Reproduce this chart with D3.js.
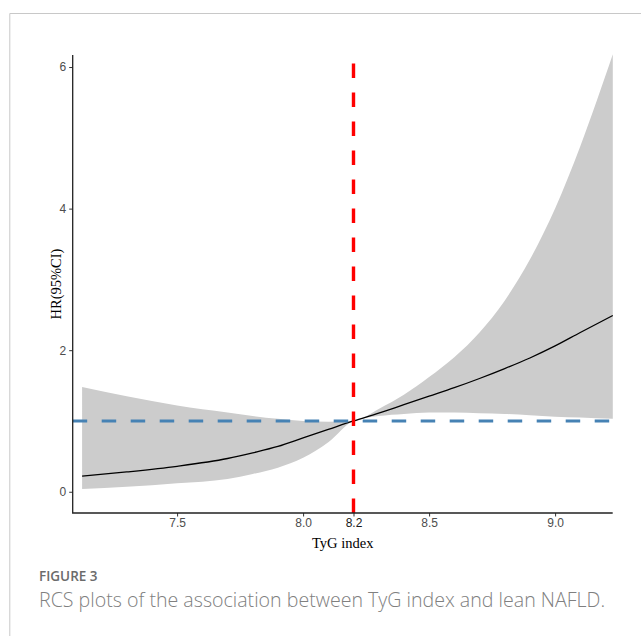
<!DOCTYPE html>
<html>
<head>
<meta charset="utf-8">
<script src="https://cdn.jsdelivr.net/npm/d3@7"></script>
<style>
  body { margin: 0; background: #fff; }
  svg { display: block; }
</style>
</head>
<body>
<div id="chart"></div>
<script>
// TyG index grid and RCS estimates
const tyg   = [7.123, 7.3, 7.5, 7.7, 7.8, 7.9, 8.0, 8.1, 8.2, 8.3, 8.4, 8.5, 8.6, 8.7, 8.8, 8.9, 9.0, 9.1, 9.229];
const hr    = [0.22, 0.28, 0.36, 0.47, 0.55, 0.64, 0.76, 0.88, 1.0, 1.11, 1.23, 1.35, 1.47, 1.60, 1.74, 1.89, 2.06, 2.25, 2.49];
const lower = [0.04, 0.07, 0.12, 0.18, 0.25, 0.34, 0.48, 0.70, 1.0, 1.07, 1.10, 1.12, 1.12, 1.11, 1.10, 1.08, 1.06, 1.05, 1.03];
const upper = [1.48, 1.35, 1.22, 1.12, 1.07, 1.03, 1.0, 0.99, 1.0, 1.17, 1.37, 1.62, 1.90, 2.25, 2.70, 3.28, 4.00, 4.88, 6.18];
const xTicks = [7.5, 8.0, 8.2, 8.5, 9.0];
const yTicks = [0, 2, 4, 6];
const cutPoint = 8.2;
const refHR = 1;

const data = tyg.map((t, i) => ({x: t, hr: hr[i], lo: lower[i], hi: upper[i]}));

const W = 641, H = 636;
const plotL = 72.7, plotR = 612.7, plotT = 55, plotB = 513;

const svg = d3.select("#chart").append("svg")
    .attr("width", W)
    .attr("height", H);

// figure frame (left + top edges)
svg.append("path")
    .attr("d", `M9.8,${H} V13.5 H${W}`)
    .attr("fill", "none")
    .attr("stroke", "#c8c8c8")
    .attr("stroke-width", 1);

const x = d3.scaleLinear()
    .domain([7.0857, 9.2286])
    .range([plotL, plotR]);

const y = d3.scaleLinear()
    .domain([-0.3, 6.17])
    .range([plotB, plotT]);

// confidence band
const area = d3.area()
    .x(d => x(d.x))
    .y0(d => y(d.lo))
    .y1(d => y(d.hi))
    .curve(d3.curveMonotoneX);

svg.append("path")
    .datum(data)
    .attr("d", area)
    .attr("fill", "#cccccc");

// HR curve
const line = d3.line()
    .x(d => x(d.x))
    .y(d => y(d.hr))
    .curve(d3.curveMonotoneX);

svg.append("path")
    .datum(data)
    .attr("d", line)
    .attr("fill", "none")
    .attr("stroke", "#000")
    .attr("stroke-width", 1.3);

// reference lines
svg.append("line")
    .attr("x1", plotL).attr("x2", plotR)
    .attr("y1", y(refHR)).attr("y2", y(refHR))
    .attr("stroke", "#4682b4")
    .attr("stroke-width", 3)
    .attr("stroke-dasharray", "14.5,14.5");

svg.append("line")
    .attr("x1", x(cutPoint)).attr("x2", x(cutPoint))
    .attr("y1", plotB).attr("y2", plotT)
    .attr("stroke", "#ff0000")
    .attr("stroke-width", 3.4)
    .attr("stroke-dasharray", "14.5,14.5");

// axes
const xAxis = svg.append("g")
    .attr("transform", `translate(0,${plotB})`)
    .call(d3.axisBottom(x).tickValues(xTicks).tickFormat(d3.format(".1f")).tickSize(3.5).tickPadding(2));

const yAxis = svg.append("g")
    .attr("transform", `translate(${plotL},0)`)
    .call(d3.axisLeft(y).tickValues(yTicks).tickFormat(d3.format("d")).tickSize(3.5).tickPadding(3));

[xAxis, yAxis].forEach(g => {
    g.select(".domain").remove();
    g.selectAll(".tick line").attr("stroke", "#333").attr("stroke-width", 1);
    g.selectAll(".tick text")
        .attr("fill", "#4d4d4d")
        .attr("font-family", "Liberation Sans, Arial, sans-serif")
        .attr("font-size", "12px");
});
xAxis.selectAll(".tick text").filter(d => d === cutPoint).attr("fill", "#1a1a1a");

svg.append("path")
    .attr("d", `M${plotL},${plotT} V${plotB} H${plotR}`)
    .attr("fill", "none")
    .attr("stroke", "#222")
    .attr("stroke-width", 1.3);

// axis titles
svg.append("text")
    .attr("x", (plotL + plotR) / 2)
    .attr("y", 548)
    .attr("text-anchor", "middle")
    .attr("font-family", "Liberation Serif, Times New Roman, serif")
    .attr("font-size", "14.5px")
    .attr("fill", "#000")
    .text("TyG index");

svg.append("text")
    .attr("transform", `translate(61,${(plotT + plotB) / 2}) rotate(-90)`)
    .attr("text-anchor", "middle")
    .attr("font-family", "Liberation Serif, Times New Roman, serif")
    .attr("font-size", "14.5px")
    .attr("fill", "#000")
    .text("HR(95%CI)");

// caption
svg.append("text")
    .attr("x", 39)
    .attr("y", 581)
    .attr("font-family", "Open Sans, sans-serif")
    .attr("font-size", "13.5px")
    .attr("font-weight", 600)
    .attr("fill", "#6b6b6b")
    .text("FIGURE 3");

svg.append("text")
    .attr("x", 39)
    .attr("y", 607)
    .attr("font-family", "Open Sans, sans-serif")
    .attr("font-size", "19.6px")
    .attr("font-weight", 300)
    .attr("fill", "#808080")
    .text("RCS plots of the association between TyG index and lean NAFLD.");
</script>
</body>
</html>
